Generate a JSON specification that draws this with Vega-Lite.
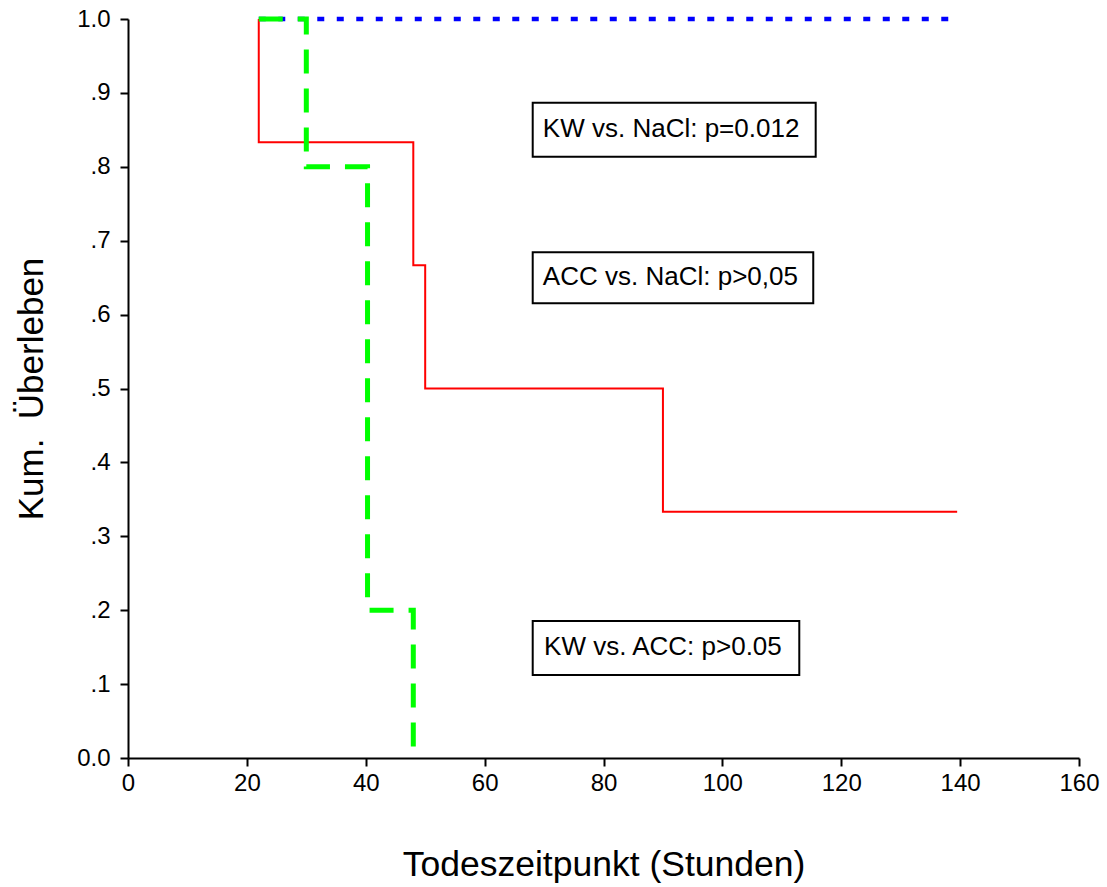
{
  "$schema": "https://vega.github.io/schema/vega-lite/v6.json",
  "width": 951,
  "height": 739,
  "autosize": {"type": "none"},
  "padding": {"left": 128, "top": 19, "right": 28, "bottom": 129},
  "background": "white",
  "config": {
    "view": {"stroke": null},
    "axis": {
      "grid": false,
      "domainColor": "black",
      "domainWidth": 2,
      "tickColor": "black",
      "tickWidth": 2,
      "tickSize": 8,
      "labelFont": "Liberation Sans",
      "labelFontSize": 24,
      "labelColor": "black",
      "titleFont": "Liberation Sans",
      "titleFontWeight": "normal",
      "titleColor": "black"
    }
  },
  "datasets": {
    "curves": [
      {"group": "NaCl", "ord": 1, "t": 22, "s": 1},
      {"group": "NaCl", "ord": 2, "t": 139.5, "s": 1},
      {"group": "KW", "ord": 1, "t": 22, "s": 1},
      {"group": "KW", "ord": 2, "t": 22, "s": 0.8333},
      {"group": "KW", "ord": 3, "t": 48, "s": 0.6667},
      {"group": "KW", "ord": 4, "t": 50, "s": 0.5},
      {"group": "KW", "ord": 5, "t": 90, "s": 0.3333},
      {"group": "KW", "ord": 6, "t": 139.5, "s": 0.3333},
      {"group": "ACC", "ord": 1, "t": 22, "s": 1},
      {"group": "ACC", "ord": 2, "t": 30, "s": 0.8},
      {"group": "ACC", "ord": 3, "t": 40.3, "s": 0.2},
      {"group": "ACC", "ord": 4, "t": 48, "s": 0}
    ],
    "notes": [
      {"label": "KW vs. NaCl: p=0.012", "x0": 68.09, "x1": 115.7, "y0": 0.8137, "y1": 0.8867, "tx": 69.8, "ty": 0.8407},
      {"label": "ACC vs. NaCl: p>0,05", "x0": 68.09, "x1": 115.29, "y0": 0.6153, "y1": 0.6843, "tx": 69.8, "ty": 0.64},
      {"label": "KW vs. ACC: p>0.05", "x0": 68.09, "x1": 112.94, "y0": 0.1123, "y1": 0.1854, "tx": 70.0, "ty": 0.1394}
    ]
  },
  "layer": [
    {
      "data": {"name": "curves"},
      "transform": [{"filter": "datum.group == 'NaCl'"}],
      "mark": {"type": "line", "interpolate": "step-after", "color": "#0000ff", "strokeWidth": 4.5, "strokeDash": [7, 12.5], "strokeCap": "butt"},
      "encoding": {
        "x": {
          "field": "t", "type": "quantitative", "title": "Todeszeitpunkt (Stunden)",
          "scale": {"domain": [0, 160], "nice": false, "zero": false},
          "axis": {"values": [0, 20, 40, 60, 80, 100, 120, 140, 160], "labelPadding": 5, "titleFontSize": 35.5, "titleY": 117, "titleBaseline": "alphabetic", "labelFlush": false, "labelOverlap": false}
        },
        "y": {
          "field": "s", "type": "quantitative", "title": "Kum.\u00a0 Überleben",
          "scale": {"domain": [0, 1], "nice": false},
          "axis": {"values": [0, 0.1, 0.2, 0.3, 0.4, 0.5, 0.6, 0.7, 0.8, 0.9, 1], "labelExpr": "datum.value == 0 ? '0.0' : datum.value == 1 ? '1.0' : replace(format(datum.value, '.1f'), '0.', '.')", "labelPadding": 10, "titleFontSize": 35, "titleX": -86, "titleBaseline": "alphabetic", "labelFlush": false, "labelOverlap": false}
        },
        "order": {"field": "ord", "type": "quantitative"}
      }
    },
    {
      "data": {"name": "curves"},
      "transform": [{"filter": "datum.group == 'KW'"}],
      "mark": {"type": "line", "interpolate": "step-after", "color": "#ff0000", "strokeWidth": 2},
      "encoding": {
        "x": {"field": "t", "type": "quantitative", "title": "Todeszeitpunkt (Stunden)"},
        "y": {"field": "s", "type": "quantitative", "title": "Kum.\u00a0 Überleben"},
        "order": {"field": "ord", "type": "quantitative"}
      }
    },
    {
      "data": {"name": "curves"},
      "transform": [{"filter": "datum.group == 'ACC'"}],
      "mark": {"type": "line", "interpolate": "step-after", "color": "#00ff00", "strokeWidth": 5, "strokeDash": [24, 15], "strokeCap": "butt"},
      "encoding": {
        "x": {"field": "t", "type": "quantitative", "title": "Todeszeitpunkt (Stunden)"},
        "y": {"field": "s", "type": "quantitative", "title": "Kum.\u00a0 Überleben"},
        "order": {"field": "ord", "type": "quantitative"}
      }
    },
    {
      "data": {"name": "notes"},
      "mark": {"type": "rect", "fill": "white", "stroke": "black", "strokeWidth": 2},
      "encoding": {
        "x": {"field": "x0", "type": "quantitative", "title": "Todeszeitpunkt (Stunden)"},
        "x2": {"field": "x1"},
        "y": {"field": "y0", "type": "quantitative", "title": "Kum.\u00a0 Überleben"},
        "y2": {"field": "y1"}
      }
    },
    {
      "data": {"name": "notes"},
      "mark": {"type": "text", "align": "left", "baseline": "alphabetic", "font": "Liberation Sans", "fontSize": 26, "color": "black"},
      "encoding": {
        "x": {"field": "tx", "type": "quantitative", "title": "Todeszeitpunkt (Stunden)"},
        "y": {"field": "ty", "type": "quantitative", "title": "Kum.\u00a0 Überleben"},
        "text": {"field": "label"}
      }
    }
  ]
}
